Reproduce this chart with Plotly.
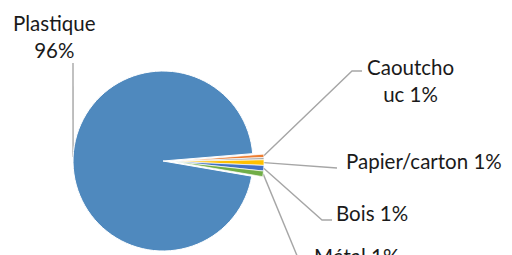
import math
import plotly.graph_objects as go

# ---- data ----
categories = ["Plastique", "Caoutchouc", "Autres", "Papier/carton", "Bois", "Métal"]
values = [96.0, 0.6, 0.4, 1.0, 1.0, 1.0]
label_text = ["Plastique<br>{p}%", "Caoutcho<br>uc {p}%", None, "Papier/carton {p}%", "Bois {p}%", "Métal {p}%"]

# ---- style / layout ----
colors = ["#4F89BE", "#ED7D31", "#A5A5A5", "#FFC000", "#4472C4", "#70AD47"]
WIN_W, WIN_H = 512, 255
OFF = 8                            # default page body margin
W, H = WIN_W - OFF, WIN_H - OFF    # figure size
CX, CY, R = 163, 161, 90           # main pie centre / radius (window px)
PULL_DX, PULL_DY = 11, 0.5         # offset of exploded slices (px)
ROT = 99.7                         # start angle of first slice (clockwise from 12 o'clock)
FONT = "Lato"
FS = 20.5

# label anchor positions (window px) and leader bend points
label_pos = {
    0: (54.5, 36.5, "center", "middle"),
    1: (410, 80, "center", "middle"),
    3: (344, 160.5, "left", "middle"),
    4: (334, 212.5, "left", "middle"),
    5: (312, 241.5, "left", "top"),
}
leader_pts = {
    0: [(73, 63)],
    1: [(352, 71), (362, 71)],
    3: [(337, 168)],
    4: [(322, 220), (332, 220)],
    5: [(298, 258)],
}

total = sum(values)


def dom(cx, cy, r):
    return dict(x=[(cx - OFF - r) / W, (cx - OFF + r) / W],
                y=[1 - (cy - OFF + r) / H, 1 - (cy - OFF - r) / H])


fig = go.Figure()

# hidden axes in window-pixel units for leader lines / labels
fig.update_layout(
    xaxis=dict(range=[OFF, OFF + W], visible=False, domain=[0, 1], fixedrange=True),
    yaxis=dict(range=[OFF + H, OFF], visible=False, domain=[0, 1], fixedrange=True),
)

# leader lines starting at slice mid-angles
cum = 0.0
for i, v in enumerate(values):
    mid = ROT + (cum + v / 2) / total * 360
    cum += v
    if i not in leader_pts:
        continue
    if i == 0:
        cx, cy = CX, CY
    else:
        cx, cy = CX + PULL_DX, CY + PULL_DY
    a = math.radians(mid)
    sx, sy = cx + R * math.sin(a), cy - R * math.cos(a)
    pts = [(sx, sy)] + leader_pts[i]
    fig.add_trace(go.Scatter(
        x=[p[0] for p in pts], y=[p[1] for p in pts], mode="lines",
        line=dict(color="#A6A6A6", width=1.4), hoverinfo="skip", showlegend=False,
        cliponaxis=False,
    ))

# main pie: only the big slice visible
fig.add_trace(go.Pie(
    labels=categories, values=values, sort=False, direction="clockwise", rotation=ROT,
    marker=dict(colors=[colors[0]] + ["rgba(0,0,0,0)"] * (len(values) - 1),
                line=dict(color="white", width=[1] + [0] * (len(values) - 1))),
    textinfo="none", hoverinfo="label+percent", domain=dom(CX, CY, R), showlegend=False,
))

# exploded small slices
fig.add_trace(go.Pie(
    labels=categories, values=values, sort=False, direction="clockwise", rotation=ROT,
    marker=dict(colors=["rgba(0,0,0,0)"] + colors[1:],
                line=dict(color="white", width=[0] + [0.7] * (len(values) - 1))),
    textinfo="none", hoverinfo="label+percent",
    domain=dom(CX + PULL_DX, CY + PULL_DY, R), showlegend=False,
))

for i, t in enumerate(label_text):
    if t is None or i not in label_pos:
        continue
    pct = round(values[i] / total * 100)
    x, y, xa, ya = label_pos[i]
    fig.add_annotation(
        x=x, y=y, xref="x", yref="y", text=t.format(p=pct), showarrow=False,
        xanchor=xa, yanchor=ya, align="center",
        font=dict(family=FONT, size=FS, color="#1a1a1a"),
    )

fig.update_layout(
    width=W, height=H, margin=dict(l=0, r=0, t=0, b=0),
    paper_bgcolor="white", plot_bgcolor="white", showlegend=False,
)

fig.write_html("out.html")
